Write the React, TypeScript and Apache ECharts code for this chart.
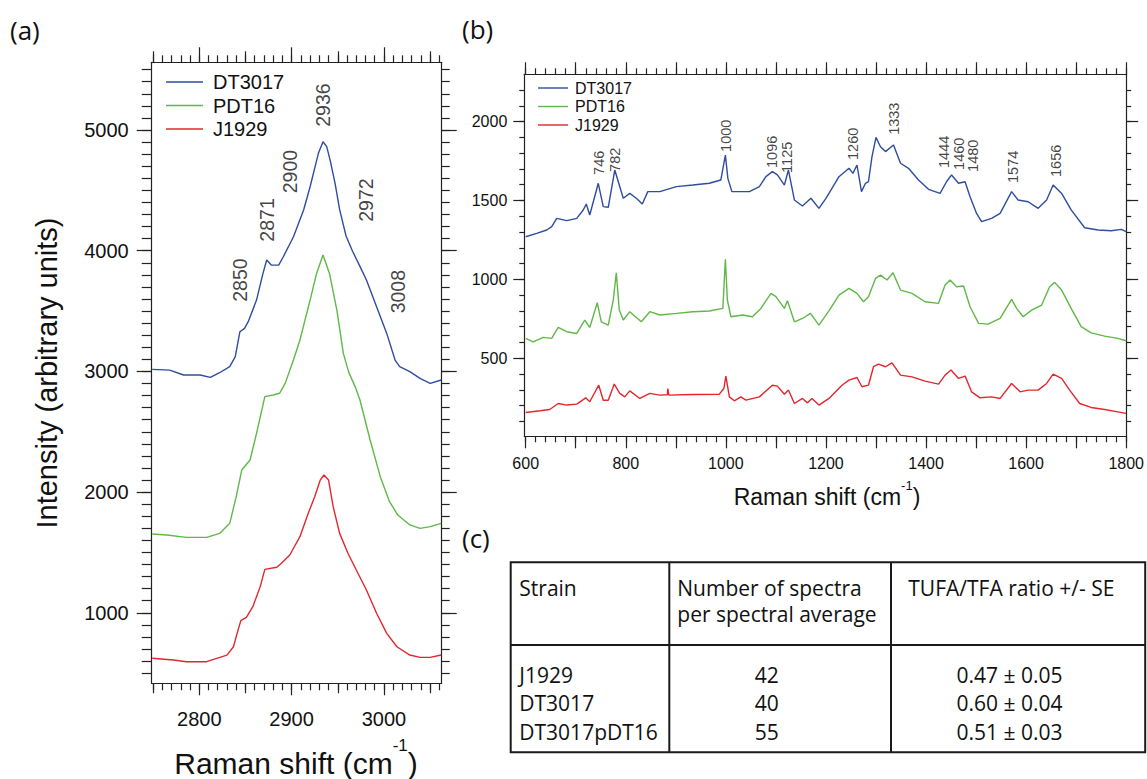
import React, { useEffect, useRef } from "react";
import * as echarts from "echarts";

// ---------- shared ----------
const seriesNames = ["DT3017", "PDT16", "J1929"];
const seriesColors = ["#2f4d9f", "#5fb847", "#e3262d"];

// ---------- panel (a): 2750-3060 cm-1 ----------
const blueAShift = [2749, 2768, 2783, 2801, 2812, 2822, 2833, 2839, 2844, 2849, 2853, 2862, 2869, 2873, 2878, 2886, 2891, 2902, 2913, 2920, 2929, 2934, 2938, 2942, 2947, 2952, 2959, 2966, 2974, 2981, 2992, 3003, 3012, 3017, 3028, 3039, 3050, 3062];
const blueAInt = [3017, 3011, 2970, 2970, 2951, 2989, 3039, 3122, 3329, 3357, 3412, 3591, 3812, 3923, 3881, 3881, 3950, 4116, 4337, 4530, 4807, 4903, 4862, 4740, 4560, 4340, 4120, 3995, 3870, 3757, 3536, 3315, 3094, 3039, 2998, 2942, 2901, 2929];
const greenAShift = [2749, 2765, 2786, 2808, 2822, 2833, 2840, 2846, 2855, 2862, 2871, 2880, 2887, 2893, 2902, 2909, 2920, 2927, 2934, 2941, 2949, 2956, 2962, 2969, 2974, 2985, 2996, 3006, 3015, 3028, 3039, 3050, 3062];
const greenAInt = [1653, 1645, 1625, 1625, 1658, 1741, 1962, 2183, 2266, 2487, 2791, 2805, 2819, 2901, 3094, 3260, 3591, 3812, 3964, 3812, 3508, 3149, 2990, 2870, 2763, 2432, 2128, 1921, 1810, 1728, 1700, 1714, 1741];
const redAShift = [2749, 2772, 2786, 2808, 2819, 2830, 2837, 2841, 2845, 2851, 2858, 2866, 2871, 2884, 2889, 2898, 2909, 2918, 2925, 2931, 2935, 2940, 2945, 2952, 2961, 2970, 2981, 2992, 3003, 3014, 3028, 3039, 3050, 3062];
const redAInt = [623, 609, 595, 595, 623, 650, 719, 830, 935, 962, 1051, 1217, 1360, 1377, 1410, 1479, 1631, 1824, 1962, 2100, 2142, 2100, 1879, 1658, 1493, 1355, 1189, 996, 830, 719, 650, 631, 631, 650];

const peakLabelsA = ["2850", "2871", "2900", "2936", "2972", "3008"];
const peakLabelAShift = [2844, 2873, 2898, 2934, 2981, 3015];
const peakLabelAInt = [3577, 4075, 4476, 5027, 4240, 3481];

const aXLabels = [2800, 2900, 3000];
const aXHalf = [2750, 2850, 2950, 3050];
const aYLabels = [1000, 2000, 3000, 4000, 5000];

// ---------- panel (b): 600-1800 cm-1 ----------
const blueBShift = [600, 622, 642, 652, 662, 682, 702, 715, 721, 728, 745, 755, 765, 778, 795, 808, 821, 833, 844, 868, 901, 934, 967, 990, 999, 1004, 1012, 1047, 1067, 1080, 1093, 1103, 1117, 1125, 1137, 1153, 1170, 1186, 1200, 1226, 1246, 1254, 1262, 1271, 1279, 1285, 1292, 1300, 1309, 1319, 1335, 1349, 1365, 1385, 1405, 1428, 1441, 1451, 1465, 1478, 1488, 1501, 1511, 1531, 1548, 1571, 1584, 1604, 1624, 1641, 1654, 1671, 1690, 1717, 1744, 1770, 1790, 1800];
const blueBInt = [1270, 1291, 1313, 1334, 1387, 1372, 1387, 1440, 1478, 1408, 1609, 1461, 1457, 1693, 1514, 1545, 1514, 1478, 1556, 1556, 1588, 1598, 1609, 1630, 1788, 1640, 1556, 1556, 1588, 1651, 1683, 1662, 1598, 1693, 1503, 1465, 1514, 1450, 1514, 1651, 1704, 1672, 1725, 1556, 1609, 1619, 1778, 1900, 1841, 1810, 1852, 1736, 1704, 1630, 1571, 1545, 1619, 1662, 1609, 1619, 1524, 1418, 1366, 1387, 1418, 1556, 1503, 1492, 1450, 1503, 1598, 1545, 1440, 1327, 1313, 1308, 1317, 1302];
const greenBShift = [600, 615, 635, 652, 665, 682, 702, 718, 728, 743, 751, 765, 775, 781, 787, 795, 808, 831, 848, 868, 901, 934, 967, 994, 999, 1003, 1010, 1034, 1053, 1070, 1090, 1100, 1117, 1123, 1137, 1153, 1169, 1186, 1206, 1226, 1246, 1262, 1275, 1285, 1299, 1309, 1322, 1334, 1349, 1372, 1398, 1425, 1438, 1448, 1461, 1475, 1488, 1505, 1524, 1548, 1571, 1581, 1594, 1611, 1631, 1647, 1657, 1671, 1690, 1710, 1730, 1757, 1783, 1800];
const greenBInt = [626, 604, 632, 626, 695, 668, 657, 742, 695, 852, 731, 710, 869, 1042, 805, 742, 795, 731, 795, 774, 784, 795, 799, 816, 1127, 869, 763, 774, 763, 816, 911, 890, 816, 864, 731, 752, 784, 710, 800, 900, 943, 911, 858, 890, 1006, 1027, 996, 1042, 932, 911, 858, 848, 964, 996, 953, 958, 826, 721, 716, 752, 873, 816, 763, 805, 837, 953, 981, 932, 816, 700, 661, 640, 626, 611];
const redBShift = [600, 629, 648, 665, 682, 702, 720, 728, 746, 755, 765, 777, 788, 798, 808, 828, 848, 868, 883, 884, 886, 934, 987, 996, 1000, 1007, 1017, 1030, 1040, 1067, 1093, 1103, 1117, 1125, 1137, 1153, 1163, 1172, 1186, 1206, 1232, 1246, 1262, 1272, 1285, 1295, 1305, 1319, 1332, 1349, 1372, 1398, 1425, 1438, 1450, 1465, 1478, 1491, 1508, 1531, 1548, 1571, 1588, 1604, 1624, 1641, 1654, 1671, 1687, 1707, 1730, 1757, 1783, 1800];
const redBInt = [156, 167, 175, 213, 203, 209, 249, 224, 329, 234, 234, 336, 277, 255, 293, 245, 277, 266, 268, 308, 266, 270, 272, 308, 387, 255, 230, 255, 234, 255, 329, 323, 272, 298, 213, 245, 217, 245, 203, 245, 329, 361, 378, 319, 329, 446, 463, 446, 471, 393, 382, 355, 336, 393, 425, 372, 387, 287, 249, 255, 245, 340, 287, 298, 298, 340, 399, 372, 298, 213, 188, 175, 160, 150];

const peakLabelsB = ["746", "782", "1000", "1096", "1125", "1260", "1333", "1444", "1460", "1480", "1574", "1656"];
const peakLabelBShift = [746, 779, 1000, 1092, 1122, 1255, 1335, 1435, 1465, 1494, 1574, 1660];
const peakLabelBInt = [1662, 1681, 1808, 1706, 1675, 1757, 1916, 1706, 1694, 1681, 1611, 1649];

const bXLabels = [600, 800, 1000, 1200, 1400, 1600, 1800];
const bYLabels = [500, 1000, 1500, 2000];

// ---------- panel (c): table ----------
const tableHeaders = ["Strain", "Number of spectra\nper spectral average", "TUFA/TFA ratio +/- SE"];
const strains = ["J1929", "DT3017", "DT3017pDT16"];
const spectraCounts = ["42", "40", "55"];
const tufaRatios = ["0.47 ± 0.05", "0.60 ± 0.04", "0.51 ± 0.03"];

// ---------- helpers ----------
const FONT = "'Liberation Sans', Arial, Helvetica, sans-serif";
const TFONT = "'Open Sans', 'Noto Sans', sans-serif";
const INK = "#111111";
const AXIS = "#222222";

function steps(a: number, b: number, s: number): number[] {
  const out: number[] = [];
  for (let v = a; v <= b + 1e-9; v += s) out.push(Math.round(v * 1000) / 1000);
  return out;
}
const zip = (xs: number[], ys: number[]) => xs.map((x, i) => [x, ys[i]]);

function axis(
  grid: number,
  position: string,
  min: number,
  max: number,
  ticks: number[],
  length: number,
  showLine: boolean,
  labels?: number[],
  labelSize?: number,
  margin?: number
) {
  return {
    type: "value",
    gridIndex: grid,
    position,
    min,
    max,
    axisLine: { show: showLine, onZero: false, lineStyle: { color: AXIS, width: 1.2 } },
    axisTick: { show: true, inside: false, length, customValues: ticks, lineStyle: { color: AXIS, width: 1.2 } },
    axisLabel: labels
      ? {
          show: true,
          customValues: labels,
          fontSize: labelSize,
          color: INK,
          fontFamily: FONT,
          margin,
          formatter: (v: number) => String(v),
        }
      : { show: false },
    splitLine: { show: false },
    minorTick: { show: false },
  };
}

function buildOption() {
  const aX = [2748.5, 3062.5];
  const aY = [416, 5561];
  const bX = [597.2, 1800];
  const bY = [5, 2300];

  const xAxis = [
    axis(0, "bottom", aX[0], aX[1], aXLabels, 12, true, aXLabels, 20, 26),
    axis(0, "bottom", aX[0], aX[1], aXHalf, 10, false),
    axis(0, "bottom", aX[0], aX[1], steps(2750, 3060, 10), 7, false),
    axis(0, "top", aX[0], aX[1], aXLabels, 15, true),
    axis(0, "top", aX[0], aX[1], aXHalf, 11, false),
    axis(0, "top", aX[0], aX[1], steps(2750, 3060, 10), 7, false),
    axis(1, "bottom", bX[0], bX[1], steps(600, 1800, 100), 12, true, bXLabels, 16, 19),
    axis(1, "bottom", bX[0], bX[1], steps(600, 1800, 20), 6, false),
    axis(1, "top", bX[0], bX[1], steps(600, 1800, 100), 12, true),
    axis(1, "top", bX[0], bX[1], steps(600, 1800, 20), 6, false),
  ];
  const yAxis = [
    axis(0, "left", aY[0], aY[1], aYLabels, 15, true, aYLabels, 20, 23),
    axis(0, "left", aY[0], aY[1], steps(500, 5500, 100), 10, false),
    axis(0, "right", aY[0], aY[1], aYLabels, 15, true),
    axis(0, "right", aY[0], aY[1], steps(500, 5500, 100), 8, false),
    axis(1, "left", bY[0], bY[1], bYLabels, 11, true, bYLabels, 16, 17),
    axis(1, "left", bY[0], bY[1], steps(100, 2200, 100), 5, false),
    axis(1, "right", bY[0], bY[1], bYLabels, 12, true),
    axis(1, "right", bY[0], bY[1], steps(100, 2200, 100), 5, false),
  ];

  const seriesA = [zip(blueAShift, blueAInt), zip(greenAShift, greenAInt), zip(redAShift, redAInt)];
  const seriesB = [zip(blueBShift, blueBInt), zip(greenBShift, greenBInt), zip(redBShift, redBInt)];

  const lineSeries = (data: number[][], i: number, xi: number, yi: number) => ({
    type: "line",
    name: seriesNames[i],
    data,
    xAxisIndex: xi,
    yAxisIndex: yi,
    symbol: "none",
    silent: true,
    lineStyle: { color: seriesColors[i], width: 1.4 },
    itemStyle: { color: seriesColors[i] },
    z: 3 - i,
  });

  const labelSeries = (names: string[], xs: number[], ys: number[], xi: number, yi: number, size: number) => ({
    type: "scatter",
    data: names.map((n, i) => ({ name: n, value: [xs[i], ys[i]] })),
    xAxisIndex: xi,
    yAxisIndex: yi,
    symbolSize: 1,
    silent: true,
    itemStyle: { color: "rgba(0,0,0,0)" },
    label: {
      show: true,
      formatter: "{b}",
      position: "inside",
      rotate: 90,
      align: "left",
      verticalAlign: "middle",
      fontSize: size,
      fontFamily: FONT,
      color: INK,
    },
    z: 5,
  });

  const series: any[] = [];
  seriesA.forEach((d, i) => series.push(lineSeries(d, i, 0, 0)));
  seriesB.forEach((d, i) => series.push(lineSeries(d, i, 6, 4)));
  series.push(labelSeries(peakLabelsA, peakLabelAShift, peakLabelAInt, 0, 0, 19.5));
  series.push(labelSeries(peakLabelsB, peakLabelBShift, peakLabelBInt, 6, 4, 14.5));

  // ---- table graphics ----
  const T = { left: 510.7, top: 562.3, right: 1145.2, bottom: 752.3, head: 645, c1: 669.3, c2: 891 };
  const tStroke = { stroke: "#1a1a1a", lineWidth: 2 };
  const tText = (text: string, x: number, y: number, align = "left") => ({
    type: "text",
    x,
    y,
    silent: true,
    style: { text, fontSize: 21, fontFamily: TFONT, fill: INK, align, verticalAlign: "middle" },
  });
  const headLines = tableHeaders[1].split("\n");
  const tableGraphics: any[] = [
    { type: "rect", shape: { x: T.left, y: T.top, width: T.right - T.left, height: T.bottom - T.top }, style: { fill: "none", ...tStroke }, silent: true },
    { type: "line", shape: { x1: T.left, y1: T.head, x2: T.right, y2: T.head }, style: tStroke, silent: true },
    { type: "line", shape: { x1: T.c1, y1: T.top, x2: T.c1, y2: T.bottom }, style: tStroke, silent: true },
    { type: "line", shape: { x1: T.c2, y1: T.top, x2: T.c2, y2: T.bottom }, style: tStroke, silent: true },
    tText(tableHeaders[0], 519.3, 587.5),
    tText(headLines[0], 677.3, 587.5),
    tText(headLines[1], 677.3, 613.5),
    tText(tableHeaders[2], 908.3, 587.5),
  ];
  const rowY = [675, 703.3, 731.6];
  strains.forEach((s, i) => {
    tableGraphics.push(tText(s, 519.3, rowY[i]));
    tableGraphics.push(tText(spectraCounts[i], 766.7, rowY[i], "center"));
    tableGraphics.push(tText(tufaRatios[i], 1009.5, rowY[i], "center"));
  });

  const panelLabel = (t: string, x: number, y: number) => ({
    type: "text",
    x,
    y,
    silent: true,
    style: { text: t, fontSize: 26, fontFamily: TFONT, fill: INK, align: "left", verticalAlign: "middle" },
  });

  const titleX = (x: number, y: number, main: number, sup: number, pad: number) => ({
    type: "text",
    x,
    y,
    silent: true,
    style: {
      text: "{m|Raman shift (cm}{s|-1}{m|)}",
      align: "center",
      verticalAlign: "middle",
      fill: INK,
      fontFamily: FONT,
      fontSize: main,
      rich: {
        m: { fontSize: main, fontFamily: FONT, fill: INK, color: INK, lineHeight: main, verticalAlign: "bottom" },
        s: { fontSize: sup, fontFamily: FONT, fill: INK, color: INK, verticalAlign: "top", padding: [0, 0, pad, 0] },
      },
    },
  });

  const graphic: any[] = [
    panelLabel("(a)", 10, 30),
    panelLabel("(b)", 462, 29),
    panelLabel("(c)", 462, 538),
    {
      type: "text",
      x: 46.7,
      y: 373,
      rotation: Math.PI / 2,
      silent: true,
      style: { text: "Intensity (arbitrary units)", fontSize: 29, fontFamily: FONT, fill: INK, align: "center", verticalAlign: "middle" },
    },
    titleX(296, 757.5, 30, 17, 24),
    titleX(827, 493.5, 23, 13, 17),
    ...tableGraphics,
  ];

  return {
    animation: false,
    backgroundColor: "#ffffff",
    grid: [
      { left: 151.7, top: 62.3, width: 290, height: 621, containLabel: false },
      { left: 524.3, top: 74.3, width: 604.7, height: 362, containLabel: false },
    ],
    xAxis,
    yAxis,
    legend: [
      {
        orient: "vertical",
        left: 166,
        top: 72,
        padding: 0,
        icon: "rect",
        itemWidth: 37,
        itemHeight: 1.6,
        itemGap: 3.5,
        selectedMode: false,
        data: seriesNames,
        textStyle: { fontSize: 20, fontFamily: FONT, color: INK, lineHeight: 20, padding: [0, 0, 0, 5] },
      },
      {
        orient: "vertical",
        left: 538,
        top: 80,
        padding: 0,
        icon: "rect",
        itemWidth: 30,
        itemHeight: 1.4,
        itemGap: 2.5,
        selectedMode: false,
        data: seriesNames,
        textStyle: { fontSize: 16, fontFamily: FONT, color: INK, lineHeight: 16, padding: [0, 0, 0, 2] },
      },
    ],
    series,
    graphic,
  };
}

export default function App() {
  const ref = useRef<HTMLDivElement>(null);
  useEffect(() => {
    if (!ref.current) return;
    const chart = echarts.init(ref.current, null, { renderer: "svg" });
    chart.setOption(buildOption() as any);
    return () => chart.dispose();
  }, []);
  return (
    <div
      ref={ref}
      style={{ position: "fixed", left: 0, top: 0, width: 1147, height: 779, background: "#fff" }}
    />
  );
}
